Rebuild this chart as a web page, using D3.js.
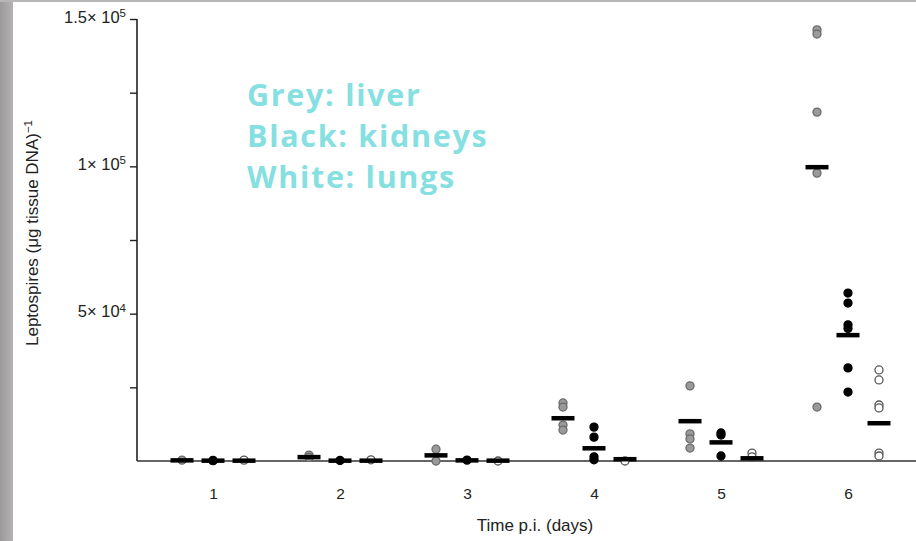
<!DOCTYPE html>
<html>
<head>
<meta charset="utf-8">
<script src="https://cdn.jsdelivr.net/npm/d3@7"></script>
<style>
  body { margin: 0; background: #fff; }
  svg { display: block; }
  .tick text { font-family: "Liberation Sans", Arial, sans-serif; fill: #222; }
</style>
</head>
<body>
<svg width="916" height="541"></svg>
<script>
var days = [1, 2, 3, 4, 5, 6],
    tissues = ["liver", "kidneys", "lungs"];

// leptospires per ug tissue DNA, one list per day
var liver = [[300], [2000, 1200], [4000, 0], [19700, 18300, 12200, 10500],
             [25500, 9200, 7500, 4400], [146300, 144900, 118400, 97700, 18300]],
    kidneys = [[200, 100], [200], [300], [11500, 8100, 1400, 400],
               [9500, 8800, 1700], [57000, 53600, 46200, 45000, 31600, 23400]],
    lungs = [[300], [400], [0], [0], [2700, 1400],
             [30900, 27500, 19000, 18000, 2700, 1700]];

var liverMedian = [300, 1400, 2000, 14600, 13600, 99800],
    kidneysMedian = [200, 200, 300, 4400, 6400, 42800],
    lungsMedian = [200, 200, 200, 700, 1000, 12900];

var majorTicks = [50000, 100000, 150000],
    majorLabels = [["5", "4"], ["1", "5"], ["1.5", "5"]],
    minorTicks = [25000, 75000, 125000];

var legendLines = ["Grey: liver", "Black: kidneys", "White: lungs"];

var series = {
    liver: { pts: liver, med: liverMedian, fill: "#9a9a9a", stroke: "#6a6a6a" },
    kidneys: { pts: kidneys, med: kidneysMedian, fill: "#000", stroke: "#000" },
    lungs: { pts: lungs, med: lungsMedian, fill: "#fff", stroke: "#555" }
};

var svg = d3.select("svg");

// grey frame edges of the slide
var grad = svg.append("defs").append("linearGradient").attr("id", "edge");
grad.append("stop").attr("offset", "0%").attr("stop-color", "#9c9a9a");
grad.append("stop").attr("offset", "100%").attr("stop-color", "#b4b2b4");
svg.append("rect").attr("x", 0).attr("y", 0).attr("width", 13).attr("height", 541)
    .attr("fill", "url(#edge)");
svg.append("rect").attr("x", 0).attr("y", 0).attr("width", 916).attr("height", 2)
    .attr("fill", "#b8b6b6");

var x = d3.scalePoint().domain(days).range([213, 848]),
    off = d3.scalePoint().domain(tissues).range([-31, 31]),
    y = d3.scaleLinear().domain([0, 150000]).range([461, 19]);

var g = svg.append("g");

// y axis, major ticks
var yAxis = g.append("g")
    .attr("transform", "translate(137,0)")
    .call(d3.axisLeft(y).tickValues(majorTicks).tickSize(7).tickPadding(4).tickFormat(""));
yAxis.select(".domain").attr("stroke", "#222").attr("stroke-width", 1.6)
    .attr("d", "M0," + y(150000) + "V" + y(0));
yAxis.selectAll(".tick line").attr("stroke", "#222").attr("stroke-width", 1.4);
yAxis.selectAll(".tick text")
    .attr("font-size", 16.5)
    .attr("dy", "0.2em")
    .each(function(d, i) {
        var t = d3.select(this).attr("x", -11);
        t.append("tspan").text(majorLabels[i][0] + "\u00d7 10");
        t.append("tspan").attr("dy", "-0.5em").attr("font-size", 11.5).text(majorLabels[i][1]);
    });

// minor ticks
g.append("g")
    .attr("transform", "translate(137,0)")
    .call(d3.axisLeft(y).tickValues(minorTicks).tickSize(7).tickFormat(""))
    .call(function(a) { a.select(".domain").remove(); })
    .selectAll(".tick line").attr("stroke", "#222").attr("stroke-width", 1.4);

// x axis
var xAxis = g.append("g")
    .attr("transform", "translate(0," + y(0) + ")")
    .call(d3.axisBottom(x).tickSize(0).tickPadding(27));
xAxis.select(".domain").attr("stroke", "#333").attr("stroke-width", 1.6)
    .attr("d", "M137,0H916");
xAxis.selectAll(".tick text").attr("font-size", 15.5);

// axis titles
svg.append("text")
    .attr("transform", "translate(38,233) rotate(-90)")
    .attr("text-anchor", "middle")
    .attr("font-family", "Liberation Sans, Arial, sans-serif")
    .attr("font-size", 17).attr("fill", "#222")
    .call(function(t) {
        t.append("tspan").text("Leptospires (\u03bcg tissue DNA)");
        t.append("tspan").attr("dy", "-0.5em").attr("font-size", 11.5).text("\u22121");
    });
svg.append("text")
    .attr("x", 535).attr("y", 531)
    .attr("text-anchor", "middle")
    .attr("font-family", "Liberation Sans, Arial, sans-serif")
    .attr("font-size", 17).attr("fill", "#222")
    .text("Time p.i. (days)");

// points and median bars
tissues.forEach(function(tis) {
    var s = series[tis],
        grp = g.append("g").attr("class", tis);
    days.forEach(function(day, i) {
        var cx = x(day) + off(tis);
        grp.selectAll(null)
            .data(s.pts[i])
            .enter().append("circle")
            .attr("cx", cx)
            .attr("cy", function(d) { return y(d); })
            .attr("r", 4)
            .attr("fill", s.fill)
            .attr("stroke", s.stroke)
            .attr("stroke-width", 1.3);
    });
    grp.selectAll("rect")
        .data(s.med)
        .enter().append("rect")
        .attr("x", function(d, i) { return x(days[i]) + off(tis) - 11.5; })
        .attr("y", function(d) { return y(d) - 2; })
        .attr("width", 23)
        .attr("height", 4.5)
        .attr("fill", "#000");
});

// legend note
svg.append("text")
    .attr("x", 247).attr("y", 106)
    .attr("font-family", "Open Sans, sans-serif")
    .attr("font-weight", "bold")
    .attr("font-size", 30.5)
    .attr("letter-spacing", 1.7)
    .attr("fill", "#86dfe0")
    .selectAll("tspan")
    .data(legendLines)
    .enter().append("tspan")
    .attr("x", 247)
    .attr("dy", function(d, i) { return i ? 41 : 0; })
    .text(function(d) { return d; });
</script>
</body>
</html>
